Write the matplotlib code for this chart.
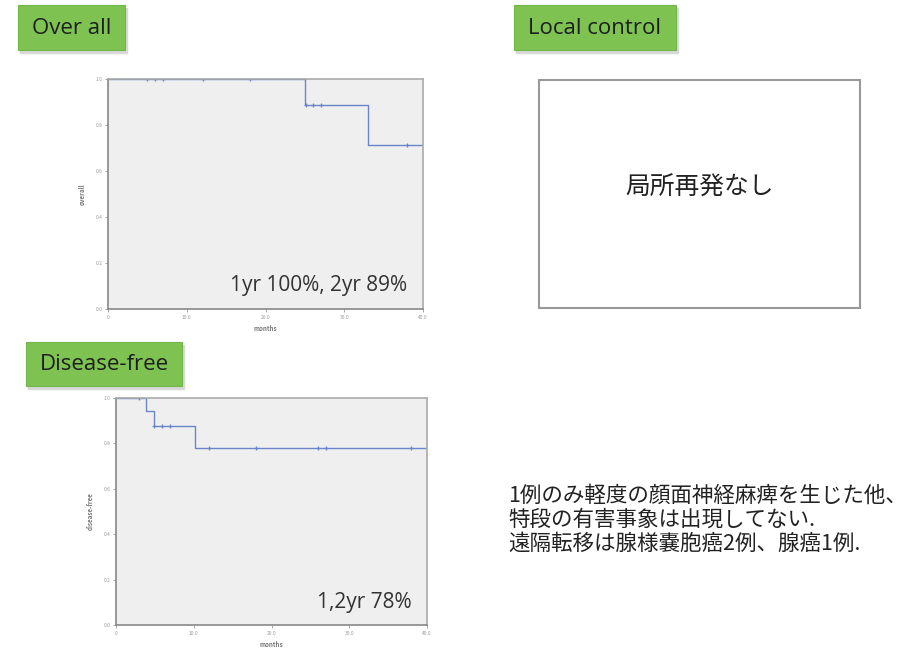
import matplotlib
matplotlib.use('Agg')
import matplotlib.pyplot as plt
from matplotlib.patches import Rectangle

plt.rcParams['font.family'] = ['Noto Sans CJK JP', 'DejaVu Sans']

W, H = 916, 650

# overall survival (Kaplan-Meier)
os_months = [0, 25, 33, 40]
os_surv = [1.0, 0.889, 0.711, 0.711]
os_cens_months = [5, 6, 7, 12, 18, 25.1, 26, 27, 38]
os_cens_surv = [1.0, 1.0, 1.0, 1.0, 1.0, 0.889, 0.889, 0.889, 0.711]

# disease-free survival
dfs_months = [0, 3.9, 4.9, 10.1, 40]
dfs_surv = [1.0, 0.944, 0.875, 0.778, 0.778]
dfs_cens_months = [3.0, 4.9, 5.9, 7.0, 12, 18, 26, 27, 38]
dfs_cens_surv = [1.0, 0.875, 0.875, 0.875, 0.778, 0.778, 0.778, 0.778, 0.778]

x_ticks = [0, 10, 20, 30, 40]
x_ticklabels = ['0', '10.0', '20.0', '30.0', '40.0']
y_ticks = [0.0, 0.2, 0.4, 0.6, 0.8, 1.0]
y_ticklabels = ['0.0', '0.2', '0.4', '0.6', '0.8', '1.0']

note_lines = ['1例のみ軽度の顔面神経麻痺を生じた他、',
              '特段の有害事象は出現してない.',
              '遠隔転移は腺様嚢胞癌2例、腺癌1例.']

fig = plt.figure(figsize=(W / 100, H / 100), dpi=100)
fig.patch.set_facecolor('white')


def px_axes(left, top, right, bottom):
    return fig.add_axes([left / W, 1 - bottom / H, (right - left) / W, (bottom - top) / H])


def km_panel(ax, t, s, ct, cs, ylabel, stat):
    ax.set_facecolor('#efefef')
    ax.step(t, s, where='post', color='#6a86c8', lw=1.0)
    ax.plot(ct, cs, ls='none', marker='+', ms=3.5, mew=0.9, color='#6a86c8')
    ax.set_xlim(0, 40)
    ax.set_ylim(0, 1.0)
    ax.set_xticks(x_ticks)
    ax.set_xticklabels(x_ticklabels)
    ax.set_yticks(y_ticks)
    ax.set_yticklabels(y_ticklabels)
    ax.tick_params(labelsize=3.5, colors='#999999', length=2, width=0.6, pad=2)
    for side, sp in ax.spines.items():
        sp.set_color('#aaaaaa' if side in ('top', 'right') else '#888888')
        sp.set_linewidth(1.2)
    ax.set_xlabel('months', fontsize=4.5, color='#777777', fontweight='bold', labelpad=4)
    ax.set_ylabel(ylabel, fontsize=4.5, color='#777777', fontweight='bold', labelpad=7)
    ax.text(0.95, 0.1, stat, transform=ax.transAxes, ha='right', va='center',
            fontsize=15, color='#333333', family=['Open Sans', 'DejaVu Sans'])


ax1 = px_axes(108, 79, 423, 309)
km_panel(ax1, os_months, os_surv, os_cens_months, os_cens_surv, 'overall', '1yr 100%, 2yr 89%')

ax2 = px_axes(116, 398, 427, 625)
km_panel(ax2, dfs_months, dfs_surv, dfs_cens_months, dfs_cens_surv, 'disease-free', '1,2yr 78%')

# overlay for boxes and free text, in pixel coordinates
ov = fig.add_axes([0, 0, 1, 1])
ov.set_xlim(0, W)
ov.set_ylim(H, 0)
ov.axis('off')
ov.patch.set_alpha(0)


def green_label(x0, y0, x1, y1, text):
    ov.add_patch(Rectangle((x0 + 2, y0 + 3), x1 - x0, y1 - y0, color='#d8d8d8', zorder=1))
    ov.add_patch(Rectangle((x0, y0), x1 - x0, y1 - y0, facecolor='#7ec252',
                           edgecolor='#72b548', lw=0.8, zorder=2))
    ov.text((x0 + x1) / 2, (y0 + y1) / 2 + 1, text, ha='center', va='center', fontsize=16,
            color='#1e1e1e', family=['Open Sans', 'DejaVu Sans'], zorder=3)


green_label(18, 5, 125, 50, 'Over all')
green_label(514, 5, 676, 50, 'Local control')
green_label(26, 342, 182, 386, 'Disease-free')

ov.add_patch(Rectangle((539, 80), 321, 228, facecolor='white', edgecolor='#999999', lw=1.5))
ov.text(700, 188, '局所再発なし', ha='center', va='center', fontsize=17.8, color='#222222')

for i, line in enumerate(note_lines):
    ov.text(508, 496 + i * 24, line, ha='left', va='center', fontsize=15.5, color='#222222')

fig.savefig('out.png', dpi=100, facecolor='white')
